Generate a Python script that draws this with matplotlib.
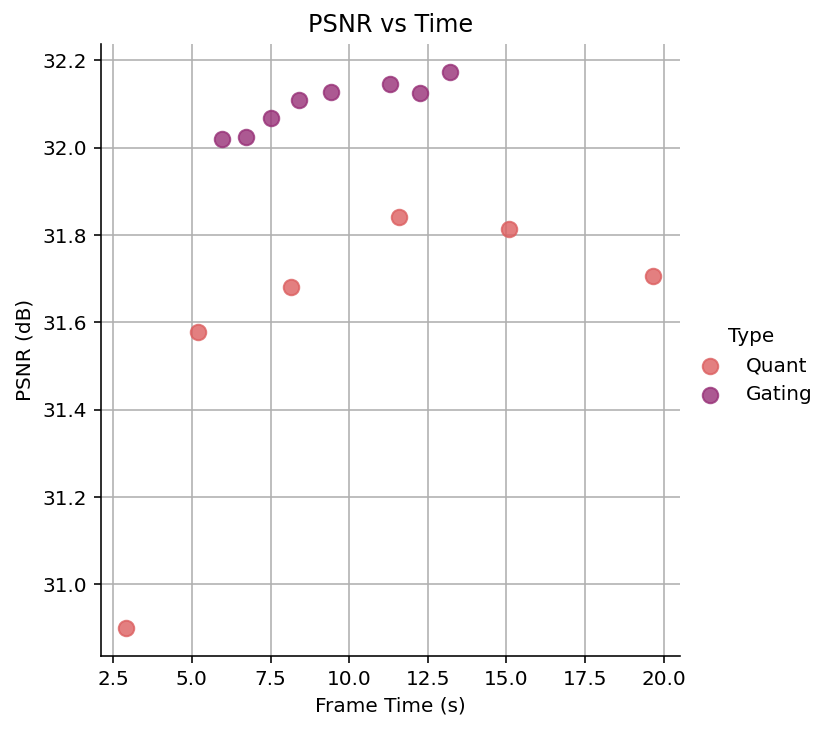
import matplotlib
matplotlib.use("Agg")
import matplotlib.pyplot as plt

quant_time = [2.90, 5.20, 8.14, 11.59, 15.07, 19.65]
quant_psnr = [30.900, 31.579, 31.680, 31.842, 31.814, 31.707]
gating_time = [5.95, 6.71, 7.50, 8.41, 9.42, 11.31, 12.26, 13.22]
gating_psnr = [32.021, 32.025, 32.069, 32.109, 32.128, 32.146, 32.125, 32.174]
series_names = ["Quant", "Gating"]
colors = ["#dc5f60", "#973077"]

fig = plt.figure(figsize=(831/144, 731/144), dpi=144)
ax = fig.add_axes([0.1215, 0.1026, 0.818 - 0.1215, 0.940 - 0.1026])

handles = []
for t, p, name, c in zip([quant_time, gating_time], [quant_psnr, gating_psnr], series_names, colors):
    h = ax.scatter(t, p, s=60, color=c, alpha=0.8, label=name, zorder=3, linewidths=1)
    handles.append(h)

ax.set_xlim(2.11, 20.51)
ax.set_ylim(30.836, 32.238)
ax.set_xticks([2.5, 5.0, 7.5, 10.0, 12.5, 15.0, 17.5, 20.0])
ax.set_yticks([31.0, 31.2, 31.4, 31.6, 31.8, 32.0, 32.2])
ax.grid(True, color="#b0b0b0", linewidth=0.8)
ax.set_axisbelow(True)
ax.spines["top"].set_visible(False)
ax.spines["right"].set_visible(False)
ax.set_xlabel("Frame Time (s)")
ax.set_ylabel("PSNR (dB)")
ax.set_title("PSNR vs Time")

leg = fig.legend(handles=handles, labels=series_names, title="Type", frameon=False,
                 loc="center left", bbox_to_anchor=(0.8085, 0.50))
fig.savefig("out.png", dpi=144)
